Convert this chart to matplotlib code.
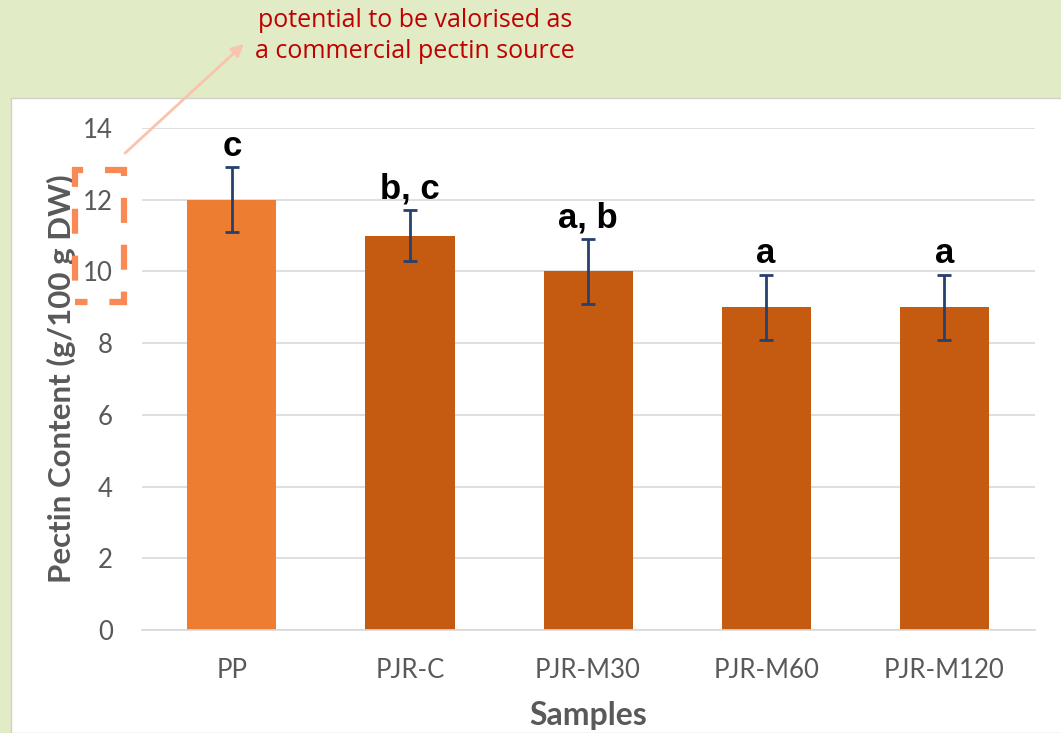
import matplotlib
matplotlib.use("Agg")
import matplotlib.pyplot as plt
from matplotlib.patches import Rectangle, FancyArrowPatch

samples = ["PP", "PJR-C", "PJR-M30", "PJR-M60", "PJR-M120"]
pectin = [12.0, 11.0, 10.0, 9.0, 9.0]
errors = [0.9, 0.7, 0.9, 0.9, 0.9]
groups = ["c", "b, c", "a, b", "a", "a"]
yticks = [0, 2, 4, 6, 8, 10, 12, 14]

bar_colors = ["#ED7D31", "#C55A11", "#C55A11", "#C55A11", "#C55A11"]
err_color = "#26416E"
tick_color = "#595959"
font = "Lato"

W, H = 1061, 733
fig = plt.figure(figsize=(W / 100, H / 100), dpi=100)
fig.patch.set_facecolor("#E1EBC5")

# white chart panel
fig.patches.append(Rectangle((11 / W, 0), 1.0, (H - 98) / H, transform=fig.transFigure,
                             facecolor="white", edgecolor="#D0D0D0", linewidth=1.0, zorder=-5))

ax = fig.add_axes([142 / W, 103 / H, 893 / W, 502 / H])
ax.set_zorder(1)
ax.set_facecolor("white")
x = list(range(len(samples)))
ax.bar(x, pectin, width=0.5, color=bar_colors, zorder=2)
ax.errorbar(x, pectin, yerr=errors, fmt="none", ecolor=err_color, elinewidth=2,
            capsize=5, capthick=2, zorder=3)

for xi, v, e, g in zip(x, pectin, errors, groups):
    ax.annotate(g, (xi, v + e), xytext=(0, 8.5), textcoords="offset points",
                ha="center", va="baseline", fontsize=25, fontweight="bold",
                family="Liberation Sans", color="black")

ax.set_ylim(0, 14)
ax.set_xlim(-0.505, 4.51)
ax.set_yticks(yticks)
ax.set_xticks(x)
ax.set_xticklabels(samples)
ax.yaxis.grid(True, color="#D9D9D9", linewidth=1.2, zorder=0)
ax.set_axisbelow(True)
for s in ["top", "right", "left"]:
    ax.spines[s].set_visible(False)
ax.spines["bottom"].set_color("#D9D9D9")
ax.spines["bottom"].set_linewidth(1.2)
ax.tick_params(axis="both", length=0, labelsize=18.5, labelcolor=tick_color)
ax.tick_params(axis="y", pad=21)
ax.tick_params(axis="x", pad=20)
for lab in ax.get_xticklabels() + ax.get_yticklabels():
    lab.set_family(font)

ax.set_ylabel("Pectin Content (g/100 g DW)", fontsize=22.5, fontweight="bold",
              color=tick_color, family=font, labelpad=5)
ax.set_xlabel("Samples", fontsize=23, fontweight="bold", color=tick_color,
              family=font, labelpad=13)

# highlight box around the 10-12 range
fig.patches.append(Rectangle((75 / W, (H - 302) / H), 49 / W, 132 / H,
                             transform=fig.transFigure, fill=False,
                             edgecolor="#F98A55", linewidth=4.5,
                             linestyle=(2, (4, 3.5)), zorder=5))

arrow = FancyArrowPatch((123 / W, (H - 155) / H), (246 / W, (H - 42) / H),
                        transform=fig.transFigure, arrowstyle="-|>",
                        mutation_scale=18, color="#F9C3AE", linewidth=2, zorder=5)
fig.patches.append(arrow)

fig.text(415 / W, (H - 36) / H, "potential to be valorised as\na commercial pectin source",
         ha="center", va="center", fontsize=18, color="#C00000", family="Open Sans",
         linespacing=1.32)

fig.savefig("out.png", dpi=100, facecolor=fig.get_facecolor())
